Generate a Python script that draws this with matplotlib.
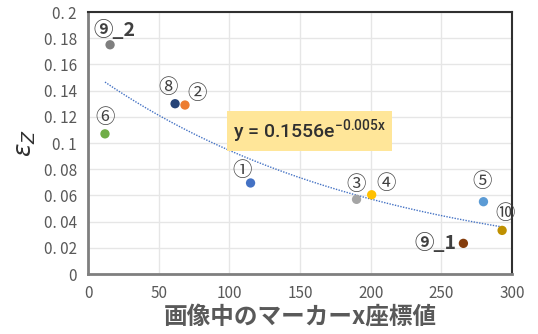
import numpy as np
import matplotlib
matplotlib.use("Agg")
import matplotlib.pyplot as plt

plt.rcParams['font.family'] = ['Noto Sans CJK JP', 'DejaVu Sans']

# marker positions and measured strain
labels = ['⑨_2', '⑥', '⑧', '②', '①', '③', '④', '⑤', '⑩', '⑨_1']
xs = [15.6, 12, 61.6, 68.6, 115, 190, 200.7, 279.8, 293, 265.6]
ys = [0.175, 0.107, 0.130, 0.129, 0.0695, 0.057, 0.0605, 0.0552, 0.0333, 0.0234]
colors = ['#7f7f7f', '#70ad47', '#264478', '#ed7d31', '#4472c4',
          '#a5a5a5', '#ffc000', '#5b9bd5', '#bf9000', '#843c0c']
# label offsets (pixels) and alignment
offs = [(4, 15), (0, 16), (-7, 16), (12, 12), (-8, 12),
        (0, 15), (14, 11), (-1, 20), (3, 17), (-7, 0)]
has = ['center'] * 9 + ['right']

# exponential fit y = a*exp(b*x)
a, b = 0.1556, -0.005
xticks = [0, 50, 100, 150, 200, 250, 300]
yticks = np.arange(0, 0.201, 0.02)
ytick_labels = ['0'] + [('%.2f' % v).rstrip('0').replace('.', '. ') for v in yticks[1:]]

fig = plt.figure(figsize=(5.38, 3.34), dpi=100)
ax = fig.add_axes([0.1636, 0.1796, 0.7881, 0.7844])

ax.set_xlim(0, 300)
ax.set_ylim(0, 0.2)
ax.set_xticks(xticks)
ax.set_yticks(yticks)
ax.set_yticklabels(ytick_labels)
ax.grid(True, color='#e6e6e6', lw=1)
ax.set_axisbelow(True)
ax.tick_params(length=0, labelsize=11, labelcolor='#595959', pad=8)

for s in ['left', 'bottom']:
    ax.spines[s].set_color('#7f7f7f')
    ax.spines[s].set_linewidth(2)
for s in ['top', 'right']:
    ax.spines[s].set_color('#303030')
    ax.spines[s].set_linewidth(1.5)

xf = np.linspace(min(xs), max(xs), 200)
ax.plot(xf, a * np.exp(b * xf), ls=(0, (1, 1)), color='#4472c4', lw=1)

ax.scatter(xs, ys, s=45, c=colors, zorder=3, linewidths=0)

for lab, x, y, off, ha in zip(labels, xs, ys, offs, has):
    bold = '_' in lab
    ax.annotate(lab, (x, y), xytext=off, textcoords='offset pixels',
                ha=ha, va='center', fontsize=14,
                fontweight='bold' if bold else 'normal', color='#404040')

ax.text(102.5, 0.109, r'y = 0.1556e$^{\mathregular{-0.005x}}$', fontsize=14,
        family=['Roboto', 'DejaVu Sans'], fontweight='medium',
        color='#303030', va='center', ha='left',
        bbox=dict(boxstyle='square,pad=0.3', fc='#ffe699', ec='none'))

ax.set_xlabel('画像中のマーカーx座標値', fontsize=17, fontweight='bold',
              color='#595959', labelpad=2)
ax.set_ylabel(r'$\varepsilon_Z$', fontsize=18, color='#303030', labelpad=4)

fig.savefig('out.png', dpi=100)
